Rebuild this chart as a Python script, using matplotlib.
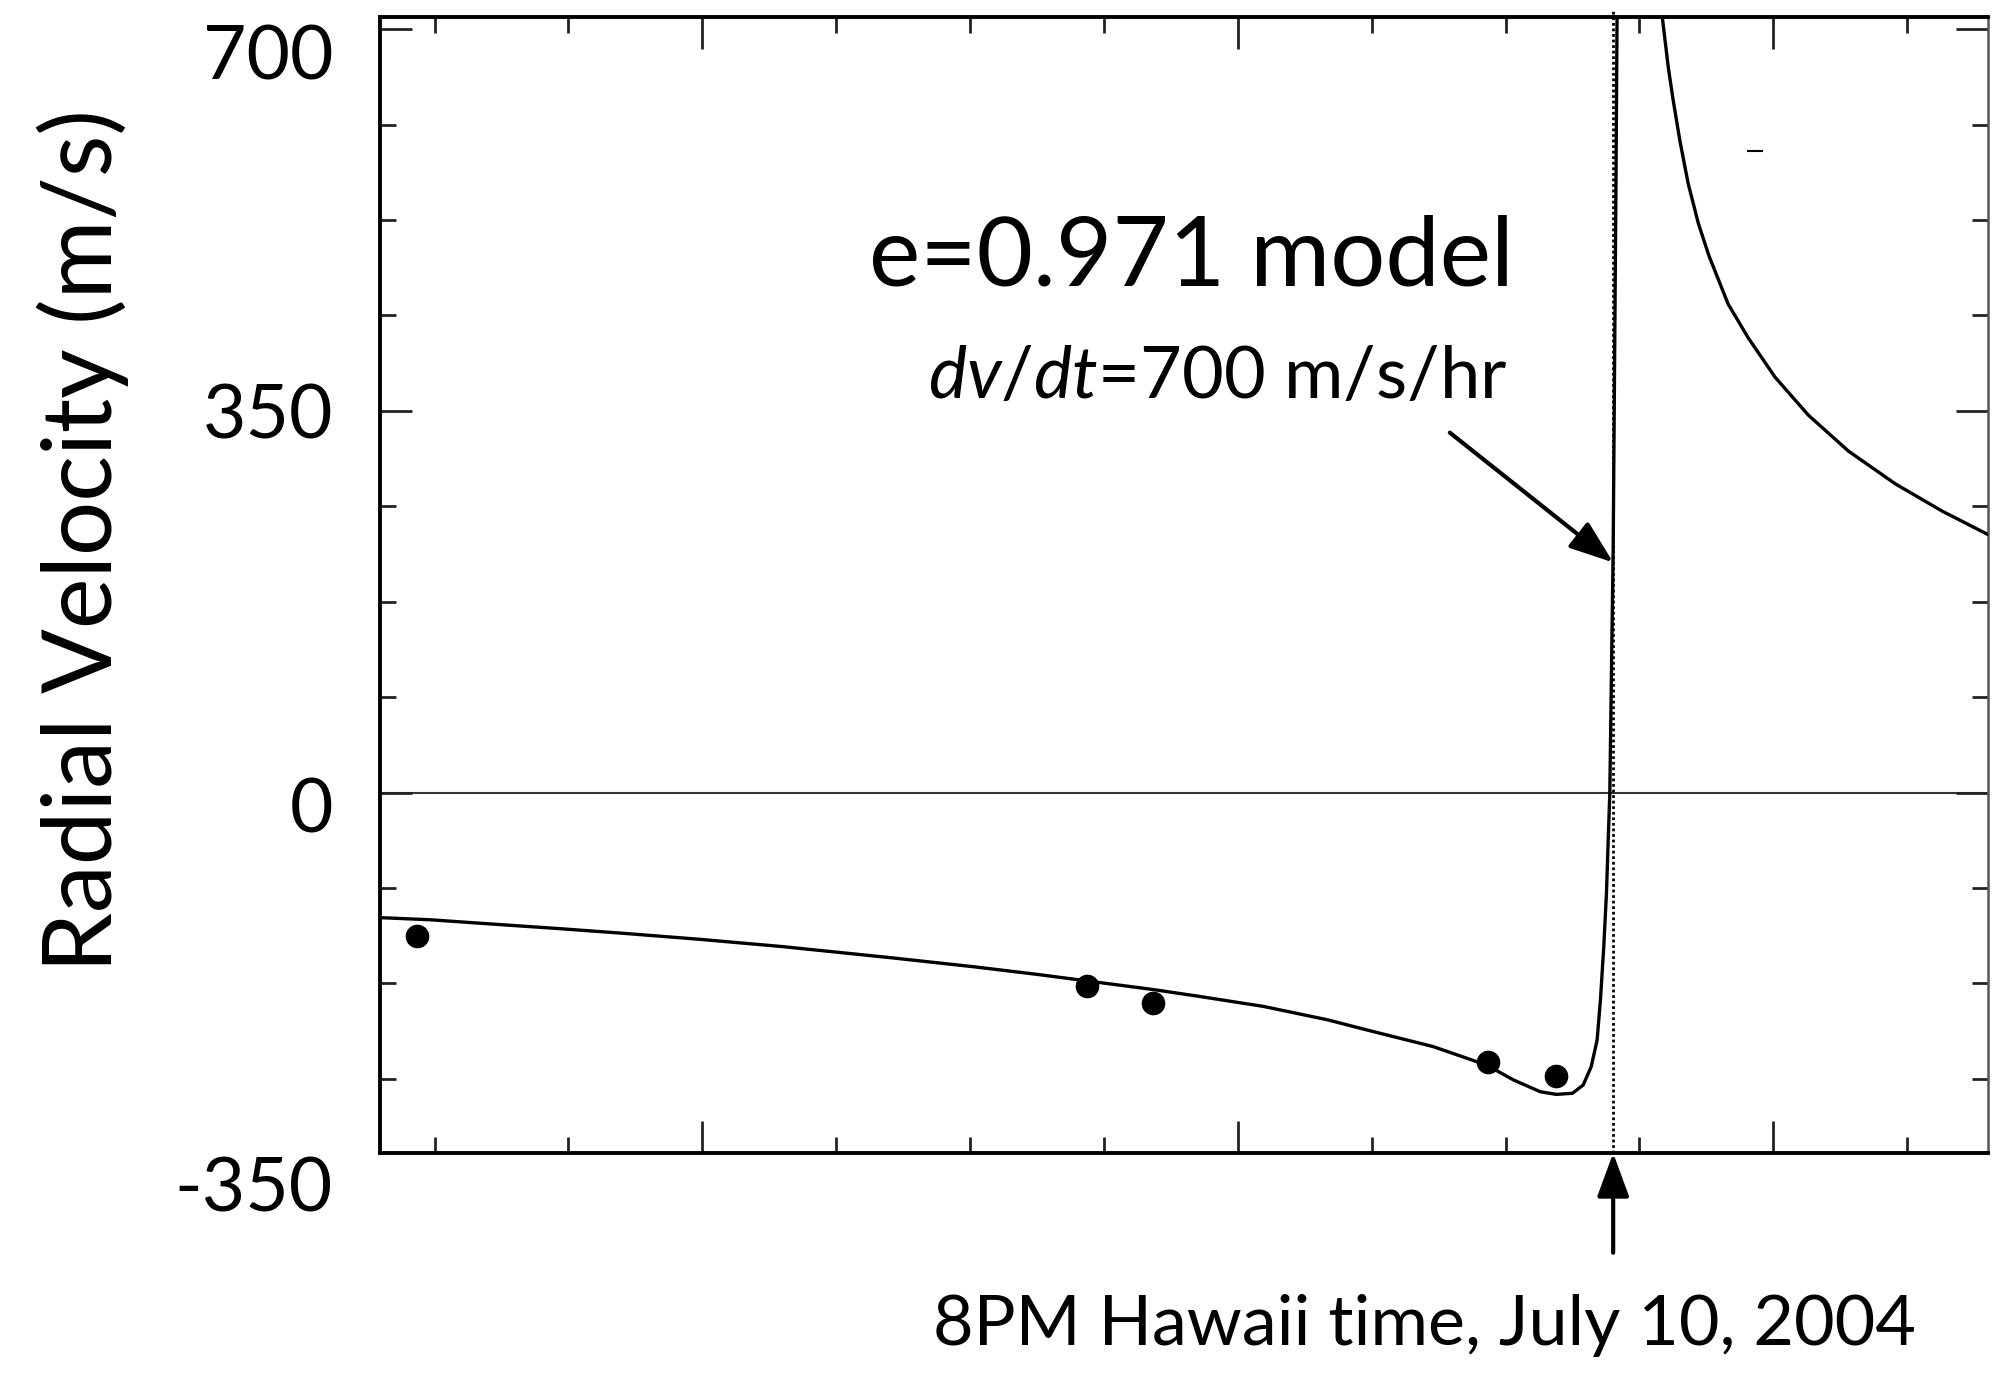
import matplotlib
matplotlib.use('Agg')
import matplotlib.pyplot as plt
from matplotlib.ticker import MultipleLocator

plt.rcParams['font.family'] = ['Lato', 'DejaVu Sans']
plt.rcParams['mathtext.fontset'] = 'custom'
plt.rcParams['mathtext.rm'] = 'Lato'
plt.rcParams['mathtext.it'] = 'Lato:italic'

# time in tick units (one minor tick = 1), velocity in m/s
obs_t = [-2.13, 2.87, 3.37, 5.87, 6.38]
obs_rv = [-132, -177, -193, -247, -260]

# e=0.971 model, branch before periastron
pre_t = [-2.43, -2.03, -1.56, -1.08, -0.60, -0.02, 0.60, 1.41, 2.03, 2.51,
         3.37, 3.71, 4.19, 4.67, 4.96, 5.46, 5.86, 6.06, 6.26, 6.38,
         6.50, 6.58, 6.64, 6.684, 6.709, 6.734, 6.754, 6.766, 6.779, 6.790,
         6.804, 6.815, 6.825, 6.833]
pre_rv = [-114.6, -116.7, -120.7, -124.7, -129.0, -134.6, -141.3, -151.5, -159.8, -166.9,
          -180.7, -186.9, -196.1, -208.4, -217.6, -233.0, -250.0, -263.6, -274.4, -276.8,
          -275.8, -268.2, -251.4, -227, -190, -141, -92, -47, 0, 100,
          222, 400, 560, 712]

# branch after periastron
post_t = [7.170, 7.215, 7.252, 7.302, 7.364, 7.44, 7.52, 7.6625, 7.8125,
          8.0125, 8.2625, 8.5625, 8.9125, 9.2625, 9.6125]
post_rv = [712, 665.6, 635.0, 598.0, 558.6, 522, 492, 448, 417,
           381, 346, 313, 283, 258, 236]

# stray mark on the slide
stray_t = [7.862]
stray_rv = [588]

t_event = 6.804
dvdt_tip = (6.804, 211)
dvdt_tail = (5.584, 330)

ytick_vals = ['700', '350', '0', '-350']
ytick_pos = [654.3, 324.2, -36.2, -384.6]

xlim = (-2.407, 9.604)
ylim = (-330.6, 711.4)

fig = plt.figure(figsize=(19.95, 13.73), dpi=100)
ax = fig.add_axes([0.1905, 0.1602, 0.806, 0.8276])
ax.set_xlim(*xlim)
ax.set_ylim(*ylim)

ax.axhline(0, color='#333333', lw=1.5, zorder=1)
ax.plot([t_event, t_event], [ylim[0], ylim[1] + 6], color='k', lw=2.0,
        linestyle=(0, (1, 1)), clip_on=False, zorder=2)

ax.plot(pre_t, pre_rv, color='k', lw=2.4, zorder=3)
ax.plot(post_t, post_rv, color='k', lw=2.4, zorder=3)
ax.plot(obs_t, obs_rv, 'o', color='k', ms=16, zorder=4)
ax.plot(stray_t, stray_rv, '_', color='k', ms=12, mew=1.5)

# ticks
ax.xaxis.set_major_locator(MultipleLocator(4))
ax.xaxis.set_minor_locator(MultipleLocator(1))
ax.yaxis.set_major_locator(MultipleLocator(350))
ax.yaxis.set_minor_locator(MultipleLocator(87.5))
ax.tick_params(which='both', direction='in', top=True, right=True,
               labelbottom=False, labelleft=False, width=2, color='#222222')
ax.tick_params(which='major', length=23)
ax.tick_params(which='minor', length=11.5)
for side in ['left', 'top', 'bottom']:
    ax.spines[side].set_linewidth(2.8)
ax.spines['right'].set_linewidth(1.8)
ax.spines['right'].set_color('#555555')

# tick labels placed by hand as on the slide
for lab, y in zip(ytick_vals, ytick_pos):
    ax.text(-2.758, y, lab, ha='right', va='baseline', fontsize=54,
            clip_on=False)

ax.text(-4.63, 231.5, 'Radial Velocity (m/s)', rotation=90, ha='center',
        va='center', fontsize=69, clip_on=False)

ax.text(6.062, 465.4, 'e=0.971 model', ha='right', va='baseline', fontsize=70)
ax.text(6.018, 361.8, r'$dv/dt$=700 m/s/hr', ha='right', va='baseline',
        fontsize=52)

arrow_kw = dict(arrowstyle='-|>,head_length=0.9,head_width=0.33',
                lw=3, color='k', shrinkA=0, shrinkB=0, mutation_scale=30)
ax.annotate('', xy=dvdt_tip, xytext=dvdt_tail, arrowprops=arrow_kw)
ax.annotate('', xy=(t_event, ylim[0]), xytext=(t_event, -422),
            annotation_clip=False, arrowprops=arrow_kw)
ax.text(5.397, -506.6, '8PM Hawaii time, July 10, 2004', ha='center',
        va='baseline', fontsize=50.5, clip_on=False)

fig.savefig('out.png', dpi=100)
